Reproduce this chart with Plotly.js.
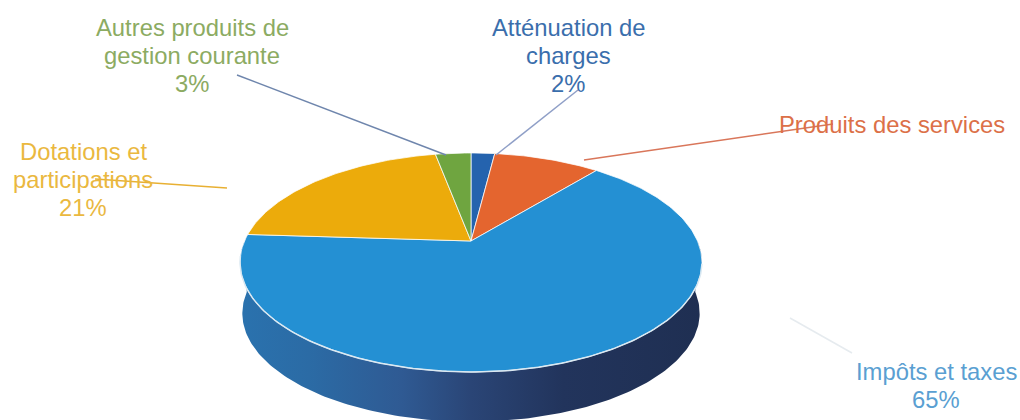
<!DOCTYPE html>
<html>
<head>
<meta charset="utf-8">
<script src="https://cdn.plot.ly/plotly-3.0.1.min.js"></script>
<style>html,body{margin:0;padding:0;background:#fff}#chart{width:1020px;height:420px}</style>
</head>
<body>
<div id="chart"></div>
<script>
// Data, clockwise from twelve o'clock
const categories = ["Atténuation de charges", "Produits des services", "Impôts et taxes", "Dotations et participations", "Autres produits de gestion courante"];
const shares = [2, 9, 65, 21, 3];
const labelLines = [["Atténuation de", "charges", "2%"], ["Produits des services"], ["Impôts et taxes", "65%"], ["Dotations et", "participations", "21%"], ["Autres produits de", "gestion courante", "3%"]];

// Styles and layout
const sliceColors = ["#2563ae", "#e4652f", "#2490d3", "#ecab0b", "#6fa540"];
const textColors = ["#3a6eac", "#dc7048", "#5a9fd2", "#eab83f", "#8cab62"];
const labelPos = [[568, 27], [892, 124], [936, 371], [83, 151], [192, 27]];
const leaders = [
  [[578, 90], [496, 155], "#8f9fc7"],
  [[584, 160], [833, 124], "#d9765a"],
  [[790, 318], [852, 353], "#e6ebef"],
  [[95, 179], [227, 188], "#e8b033"],
  [[237, 75], [446, 155], "#6f86ad"]
];
const apex = [471, 241], widthScale = 226.5, heightScale = 105.3, tilt = 0.196;
const depth = 51, lowerRimScale = 0.99, fontFamily = "'Liberation Sans', Arial, sans-serif", fontSize = 23.8, lineStep = 28;

// Perspective projection of a point of the pie's circle
function project(deg, scale, drop) {
  const a = deg * Math.PI / 180, w = 1 + tilt * Math.cos(a);
  return [apex[0] + scale * widthScale * Math.sin(a) / w,
          apex[1] + drop - scale * heightScale * Math.cos(a) / w];
}
function arc(from, to, scale, drop) {
  const n = Math.max(2, Math.ceil(Math.abs(to - from))), pts = [];
  for (let i = 0; i <= n; i++) pts.push(project(from + (to - from) * i / n, scale, drop));
  return pts;
}

const total = shares.reduce((a, b) => a + b, 0);
const traces = [];

// Side wall
const wall = arc(90, 270, 1, 0).concat(arc(270, 90, lowerRimScale, depth));
traces.push({
  type: "scatter", mode: "lines", x: wall.map(p => p[0]), y: wall.map(p => p[1]),
  fill: "toself", line: {width: 0, color: "rgba(0,0,0,0)"},
  fillgradient: {type: "horizontal", colorscale: [[0, "#2a72ae"], [0.15, "#2b6ba5"], [0.35, "#2f5a93"], [0.5, "#2a4576"], [0.7, "#22345c"], [1, "#1f2f52"]]},
  hoverinfo: "skip", showlegend: false
});

// Top slices
let cum = 0;
shares.forEach((v, i) => {
  const from = cum / total * 360;
  cum += v;
  const to = cum / total * 360;
  const pts = [apex].concat(arc(from, to, 1, 0), [apex]);
  traces.push({
    type: "scatter", mode: "lines", name: categories[i],
    x: pts.map(p => p[0]), y: pts.map(p => p[1]),
    fill: "toself", fillcolor: sliceColors[i],
    line: {width: 1, color: "rgba(255,255,255,0.75)"},
    hoverinfo: "name", showlegend: false
  });
});

// Light rim along the front edge
const rim = arc(102, 262, 1, 0);
traces.push({
  type: "scatter", mode: "lines", x: rim.map(p => p[0]), y: rim.map(p => p[1]),
  line: {width: 1.5, color: "#dbe9f2"}, hoverinfo: "skip", showlegend: false
});

const annotations = [];
labelLines.forEach((lines, i) => {
  lines.forEach((t, j) => annotations.push({
    xref: "x", yref: "y", x: labelPos[i][0], y: labelPos[i][1] + j * lineStep, showarrow: false,
    text: t, align: "center",
    font: {family: fontFamily, size: fontSize, color: textColors[i]}
  }));
});

const layout = {
  width: 1020, height: 420, margin: {l: 0, r: 0, t: 0, b: 0},
  paper_bgcolor: "#ffffff", plot_bgcolor: "#ffffff", showlegend: false,
  xaxis: {range: [0, 1020], visible: false, fixedrange: true},
  yaxis: {range: [420, 0], visible: false, fixedrange: true},
  shapes: leaders.map(l => ({
    type: "line", xref: "x", yref: "y", x0: l[0][0], y0: l[0][1], x1: l[1][0], y1: l[1][1],
    line: {color: l[2], width: 1.5}
  })),
  annotations: annotations
};

Plotly.newPlot("chart", traces, layout, {displayModeBar: false, staticPlot: true});
</script>
</body>
</html>
